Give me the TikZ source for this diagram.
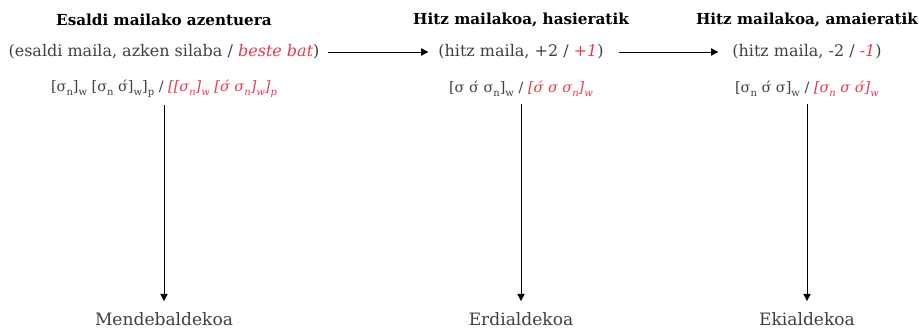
\documentclass[tikz,border=0pt]{standalone}
\usepackage{fontspec}
\setmainfont{DejaVu Serif}
\usetikzlibrary{arrows.meta}
\definecolor{txtgray}{HTML}{404040}
\definecolor{accent}{HTML}{E53A4F}
% small lowered index letters (n, w, p)
\newcommand\lo[1]{\raisebox{-0.5ex}{\fontsize{7.5}{8}\selectfont #1}}
\begin{document}
\begin{tikzpicture}[x=0.75pt,y=-0.75pt,
  every node/.style={font=\fontsize{12}{14}\selectfont, text=txtgray},
  title/.style={font=\fontsize{11.4}{14}\selectfont\bfseries, text=black},
  formula/.style={font=\fontsize{10.8}{13}\selectfont},
  place/.style={font=\fontsize{12.8}{15}\selectfont, anchor=base, inner sep=1pt},
  link/.style={-{Triangle[length=5.5pt,width=5.5pt]}, line width=0.7pt, black}]
\useasboundingbox (0,0) rectangle (919,328);

% column headings
\node[title] (t1) at (164,20) {Esaldi mailako azentuera};
\node[title] (t2) at (521,20) {Hitz mailakoa, hasieratik};
\node[title] (t3) at (807,20) {Hitz mailakoa, amaieratik};

% stress descriptions
\node (l1) at (164,52) {(esaldi maila, azken silaba / \textcolor{accent}{\itshape beste bat})};
\node (l2) at (521,52) {(hitz maila, +2 / \textcolor{accent}{\itshape +1})};
\node (l3) at (807,52) {(hitz maila, -2 / \textcolor{accent}{\itshape -1})};

% prosodic patterns
\node[formula] (f1) at (164,89) {[σ\lo{n}]\lo{w} [σ\lo{n} σ́]\lo{w}]\lo{p} / \textcolor{accent}{\itshape [[σ\lo{n}]\lo{w} [σ́ σ\lo{n}]\lo{w}]\lo{p}}};
\node[formula] (f2) at (521,89) {[σ σ́ σ\lo{n}]\lo{w} / \textcolor{accent}{\itshape [σ́ σ σ\lo{n}]\lo{w}}};
\node[formula] (f3) at (807,89) {[σ\lo{n} σ́ σ]\lo{w} / \textcolor{accent}{\itshape [σ\lo{n} σ σ́]\lo{w}}};

% dialect areas
\node[place] (b1) at (164,325) {Mendebaldekoa};
\node[place] (b2) at (521,325) {Erdialdekoa};
\node[place] (b3) at (807,325) {Ekialdekoa};

\draw[link] ([xshift=3]l1.east) -- ([xshift=-4]l2.west);
\draw[link] ([xshift=8]l2.east) -- ([xshift=-7]l3.west);
\draw[link, shorten >=7pt] ([yshift=-2]f1.south) -- (b1.north);
\draw[link, shorten >=7pt] ([yshift=-2]f2.south) -- (b2.north);
\draw[link, shorten >=7pt] ([yshift=-2]f3.south) -- (b3.north);
\end{tikzpicture}
\end{document}
